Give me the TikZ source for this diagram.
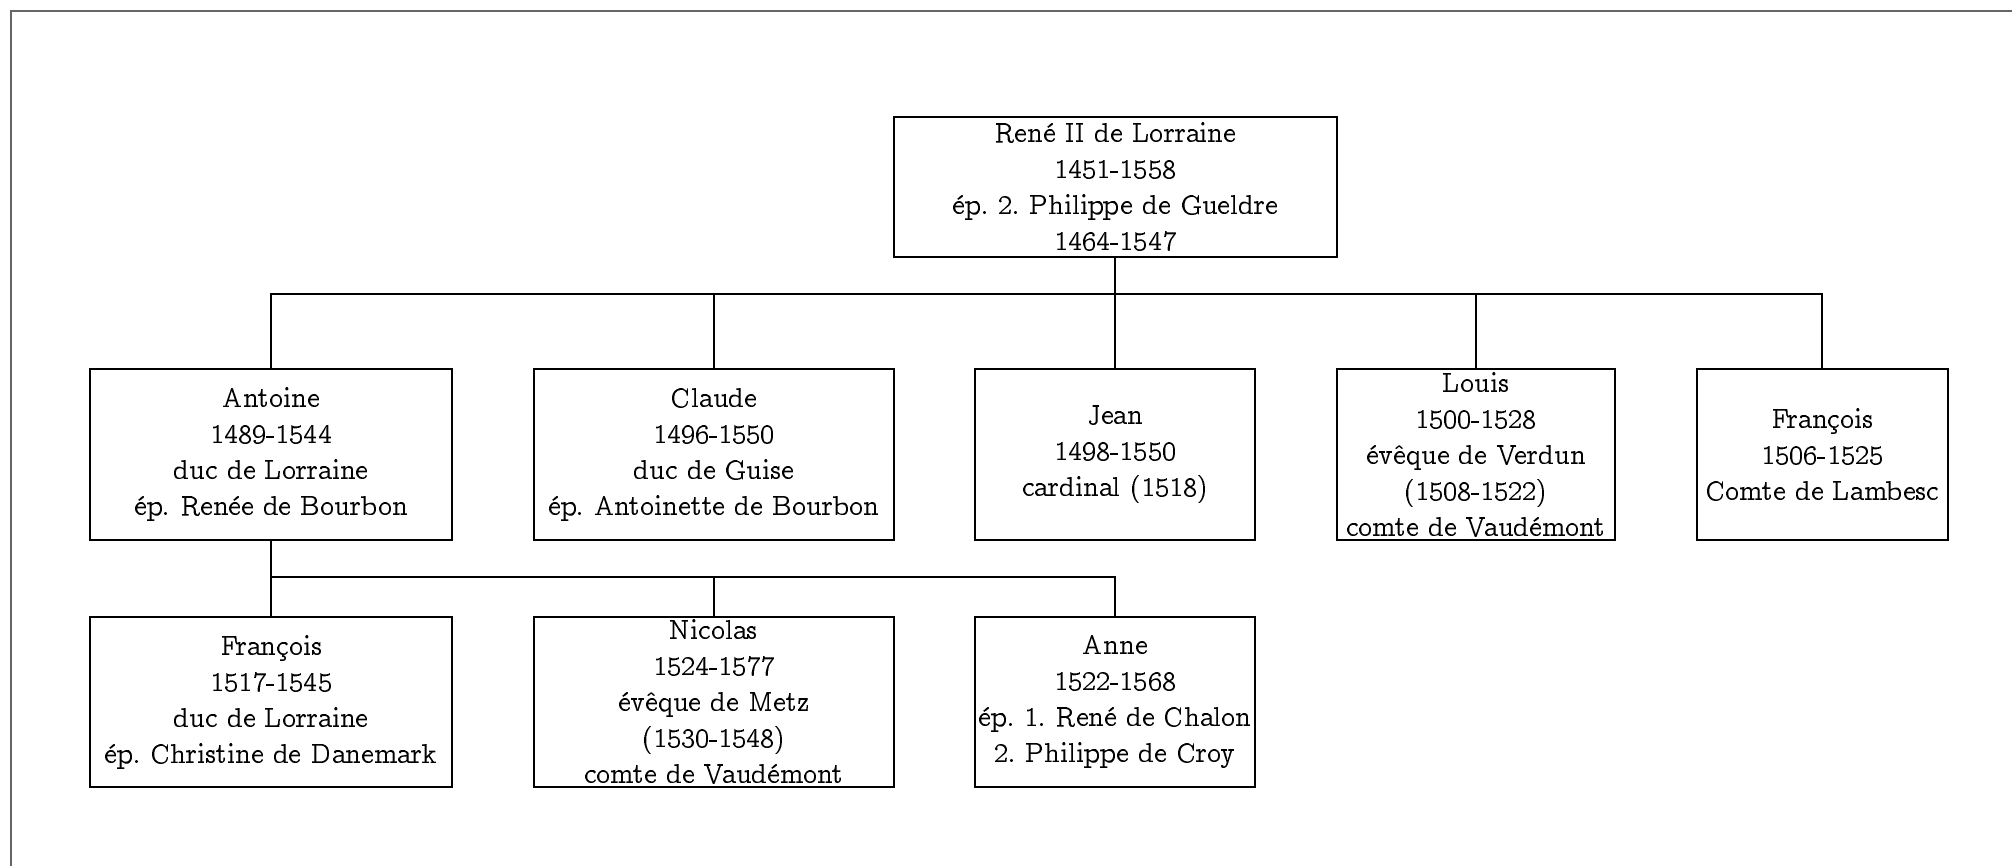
\documentclass[tikz,border=0pt]{standalone}
\usepackage[OT1]{fontenc}
\renewcommand{\rmdefault}{ccr}
\usepackage{tikz}
\usetikzlibrary{calc}
\frenchspacing

\tikzset{pers/.style={draw, line width=0.7pt, align=center, inner sep=0pt, minimum height=2.13cm, font=\fontsize{10}{12.8}\selectfont},
         lien/.style={line width=0.7pt}}

\begin{document}
\begin{tikzpicture}

\useasboundingbox (0,0) rectangle (25.15,-10.8125);

\draw [gray!80!black, line width=0.7pt] (0.1375,-12) -- (0.1375,-0.1375) -- (26,-0.1375);



\node (rene) at (13.94,-2.34) [pers, minimum width=5.54cm, minimum height=1.75cm] {Ren\'e II de Lorraine\\1451-1558\\\'ep. 2. Philippe de Gueldre\\1464-1547};



\node (antoine) at (3.39,-5.68) [pers, minimum width=4.53cm] {Antoine\\1489-1544\\duc de Lorraine\\\'ep. Ren\'ee de Bourbon};

\node (claude) at (8.925,-5.68) [pers, minimum width=4.5cm] {Claude\\1496-1550\\duc de Guise\\\'ep. Antoinette de Bourbon};

\node (jean) at (13.94,-5.68) [pers, minimum width=3.5cm] {Jean\\1498-1550\\cardinal (1518)};

\node (louis) at (18.45,-5.68) [pers, minimum width=3.475cm] {Louis\\1500-1528\\\'ev\^eque de Verdun\\(1508-1522)\\comte de Vaud\'emont};

\node (francois) at (22.78,-5.68) [pers, minimum width=3.14cm] {Fran\c{c}ois\\1506-1525\\Comte de Lambesc};



\node (francoisb) at (3.39,-8.775) [pers, minimum width=4.53cm] {Fran\c{c}ois\\1517-1545\\duc de Lorraine\\\'ep. Christine de Danemark};

\node (nicolas) at (8.925,-8.775) [pers, minimum width=4.5cm] {Nicolas\\1524-1577\\\'ev\^eque de Metz\\(1530-1548)\\comte de Vaud\'emont};

\node (anne) at (13.94,-8.775) [pers, minimum width=3.5cm] {Anne\\1522-1568\\\'ep. 1. Ren\'e de Chalon\\2. Philippe de Croy};



\coordinate (bus1) at (13.94,-3.675);
\coordinate (bus2) at (3.39,-7.21);

\draw [lien] (rene.south) -- (bus1);
\draw [lien] (antoine.north) |- (bus1);
\draw [lien] (francois.north) |- (bus1);
\draw [lien] (claude.north) -- (claude.north |- bus1);
\draw [lien] (jean.north) -- (jean.north |- bus1);
\draw [lien] (louis.north) -- (louis.north |- bus1);

\draw [lien] (antoine.south) -- (bus2);
\draw [lien] (anne.north) |- (bus2);
\draw [lien] (nicolas.north) -- (nicolas.north |- bus2);
\draw [lien] (francoisb.north) -- (bus2);

\end{tikzpicture}
\end{document}
